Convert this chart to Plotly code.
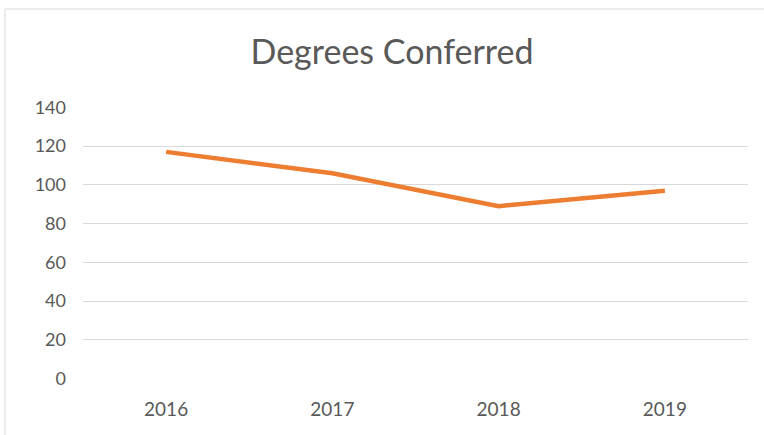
import plotly.graph_objects as go

years = ["2016", "2017", "2018", "2019"]
degrees = [117, 106, 89, 97]
y_ticks = [0, 20, 40, 60, 80, 100, 120, 140]

W, H = 764, 435
L, R, T, B = 83, 16, 107, 56

fig = go.Figure()
fig.add_trace(go.Scatter(
    x=years, y=degrees, mode="lines",
    line=dict(color="#ED7D31", width=4.5),
    showlegend=False, hoverinfo="x+y"))

pw = W - L - R
ph = H - T - B
def px_x(p):
    return (p - L) / pw
def px_y(p):
    return (H - B - p) / ph

fig.add_shape(type="rect", xref="paper", yref="paper",
              x0=px_x(5), x1=px_x(800), y0=px_y(480), y1=px_y(9),
              line=dict(color="#D9D9D9", width=1), fillcolor="rgba(0,0,0,0)", layer="below")

fig.update_layout(
    width=W, height=H,
    margin=dict(l=L, r=R, t=T, b=B),
    paper_bgcolor="white", plot_bgcolor="white",
    font=dict(family="Lato, 'Open Sans', sans-serif", color="#595959", size=18),
    title=dict(text="Degrees Conferred", x=392 / W, xanchor="center",
               y=1 - 52 / H, yanchor="middle", yref="container",
               font=dict(size=34, color="#595959")),
    xaxis=dict(type="category", range=[-0.5, 3.5], showgrid=False, showline=False,
               zeroline=False, ticks="", ticklabelstandoff=17,
               tickfont=dict(size=19, color="#595959")),
    yaxis=dict(range=[-0.15, 140.15], tickvals=y_ticks, showgrid=True, gridcolor="#D9D9D9",
               gridwidth=1, zeroline=False, showline=False, ticks="",
               ticklabelstandoff=16, tickfont=dict(size=18, color="#595959")),
)

fig.write_html("out.html", config={"displayModeBar": False},
               post_script="document.body.style.margin='0';document.body.style.overflow='hidden';")
